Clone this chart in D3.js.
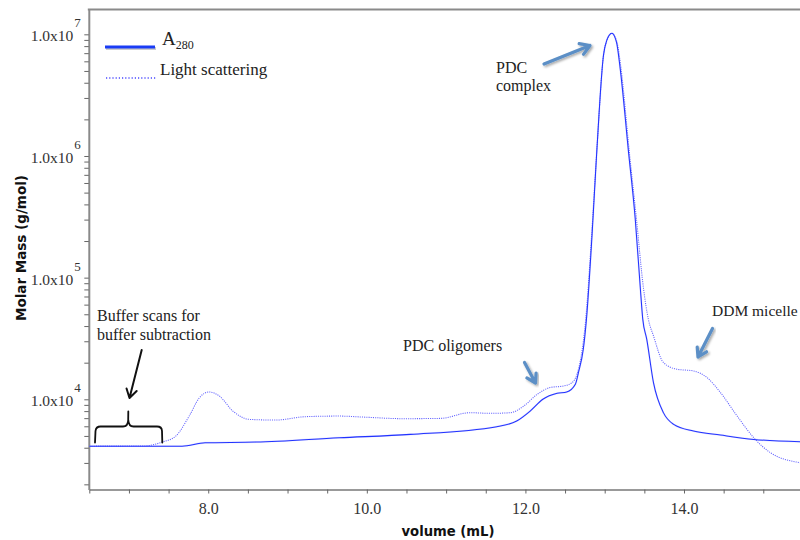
<!DOCTYPE html>
<html>
<head>
<meta charset="utf-8">
<script src="https://cdn.jsdelivr.net/npm/d3@7"></script>
<style>
  html, body { margin: 0; padding: 0; background: #fff; }
  svg { display: block; }
</style>
</head>
<body>
<svg id="chart" width="800" height="540"></svg>
<script>
// ---------- data ----------
const volumeA280 = [6.50, 7.67, 7.96, 8.60, 9.65, 10.55, 11.64, 11.89, 12.06, 12.22, 12.40, 12.52, 12.63, 12.67, 12.73, 12.77, 12.84, 12.90, 12.985, 13.025, 13.09, 13.15, 13.195, 13.30, 13.385, 13.45, 13.48, 13.53, 13.615, 13.74, 13.87, 14.12, 14.46, 14.88, 15.47];
const massA280   = [4120, 4120, 4395, 4450, 4830, 5150, 5960, 6630, 8010, 10000, 11200, 11480, 13300, 16700, 25800, 45600, 221800, 1087000, 6760000, 8870000, 10200000, 8530000, 5250000, 1087000, 304700, 80700, 45640, 31240, 13730, 7770, 6220, 5480, 5080, 4680, 4480];

const volumeLS = [6.50, 7.18, 7.42, 7.59, 7.76, 7.89, 8.01, 8.14, 8.31, 8.52, 8.85, 9.23, 9.65, 9.96, 10.46, 10.93, 11.30, 11.56, 11.81, 11.98, 12.15, 12.31, 12.48, 12.59, 12.65, 12.70, 12.76, 12.835, 12.90, 12.985, 13.025, 13.09, 13.155, 13.205, 13.31, 13.40, 13.49, 13.55, 13.615, 13.74, 13.91, 14.12, 14.29, 14.46, 14.67, 14.88, 15.09, 15.47];
const massLS   = [4120, 4130, 4450, 4980, 7290, 10330, 11480, 10640, 8010, 6840, 6750, 7200, 7280, 7140, 6930, 6970, 7760, 7670, 7760, 8810, 11000, 12490, 12870, 13740, 16070, 22000, 45000, 221800, 1087000, 6760000, 8870000, 10200000, 8600000, 5300000, 1087000, 304700, 80700, 45640, 33260, 20080, 17680, 17110, 15100, 11360, 7290, 4830, 3640, 3010];

const xTickValues = [6.5, 7, 7.5, 8, 8.5, 9, 9.5, 10, 10.5, 11, 11.5, 12, 12.5, 13, 13.5, 14, 14.5, 15];
const xTickLabels = [8, 10, 12, 14];
const yMajorExponents = [4, 5, 6, 7];
const yMinorMultipliers = [2, 3, 4, 5, 6, 7, 8, 9];
const yMinorExponents = [3, 4, 5, 6];

const legendLabels = ["A", "Light scattering"];
const annotations = [
  { lines: ["PDC", "complex"] },
  { lines: ["PDC oligomers"] },
  { lines: ["DDM micelle"] },
  { lines: ["Buffer scans for", "buffer subtraction"] }
];

// ---------- layout ----------
const W = 800, H = 540;
const plotLeft = 89.3, plotRight = 800, plotTop = 9, plotBottom = 489.5;

const svg = d3.select("#chart");

const x = d3.scaleLinear().domain([6.5, 15.463]).range([plotLeft, plotRight]);
const y = d3.scaleLog().domain([1814, 1.615e7]).range([plotBottom, plotTop]);

const serif = "'Liberation Serif', 'DejaVu Serif', serif";
const sans = "'DejaVu Sans', 'Liberation Sans', sans-serif";

// defs
const defs = svg.append("defs");
defs.append("clipPath").attr("id", "plotClip")
  .append("rect").attr("x", plotLeft).attr("y", plotTop)
  .attr("width", plotRight - plotLeft).attr("height", plotBottom - plotTop);
const shadow = defs.append("filter").attr("id", "shadow")
  .attr("x", "-20%").attr("y", "-20%").attr("width", "140%").attr("height", "140%");
shadow.append("feDropShadow").attr("dx", 1.5).attr("dy", 1.5)
  .attr("stdDeviation", 1.2).attr("flood-color", "#000").attr("flood-opacity", 0.35);

// ---------- axes ----------
const xAxis = d3.axisBottom(x)
  .tickValues(xTickValues)
  .tickSize(4)
  .tickSizeOuter(0)
  .tickFormat(d => xTickLabels.includes(d) ? d3.format(".1f")(d) : "");

const gx = svg.append("g")
  .attr("transform", `translate(0,${plotBottom})`)
  .call(xAxis);
gx.select(".domain").attr("stroke", "#777").attr("stroke-width", 1.6);
gx.selectAll(".tick line").attr("stroke", "#666").attr("stroke-width", 1);
gx.selectAll(".tick text")
  .attr("font-family", serif).attr("font-size", 16).attr("fill", "#333")
  .attr("dy", null).attr("y", 24);

const yTickValues = [];
yMinorExponents.forEach(k => yMinorMultipliers.forEach(m => yTickValues.push(m * Math.pow(10, k))));
yMajorExponents.forEach(k => yTickValues.push(Math.pow(10, k)));
const yTicksInDomain = yTickValues.filter(v => v >= y.domain()[0] && v <= y.domain()[1]).sort((a, b) => a - b);

const yAxis = d3.axisLeft(y)
  .tickValues(yTicksInDomain)
  .tickSize(4.5)
  .tickSizeOuter(0)
  .tickFormat(() => "");

const gy = svg.append("g")
  .attr("transform", `translate(${plotLeft - 0.5},0)`)
  .call(yAxis);
gy.select(".domain").attr("stroke", "#8a8a8a").attr("stroke-width", 2);
gy.selectAll(".tick line").attr("stroke", "#666").attr("stroke-width", 1);
gy.selectAll(".tick").each(function(d) {
  const e = Math.round(Math.log10(d));
  if (Math.abs(Math.log10(d) - e) < 1e-9 && yMajorExponents.includes(e)) {
    const t = d3.select(this).select("text")
      .attr("font-family", serif).attr("font-size", 15.5).attr("fill", "#333")
      .attr("x", -8).attr("dy", null).attr("y", 6.5)
      .attr("text-anchor", "end");
    t.text(null);
    t.append("tspan").text("1.0x10");
    t.append("tspan").attr("font-size", 13).attr("dx", 1).attr("dy", -14).text(e);
  }
});

// top frame line
svg.append("line")
  .attr("x1", plotLeft - 1.5).attr("x2", plotRight)
  .attr("y1", plotTop + 0.5).attr("y2", plotTop + 0.5)
  .attr("stroke", "#8a8a8a").attr("stroke-width", 2.2);

// axis titles
svg.append("text")
  .attr("transform", `translate(26,248) rotate(-90)`)
  .attr("text-anchor", "middle")
  .attr("font-family", sans).attr("font-weight", "bold")
  .attr("font-size", 13.5).attr("fill", "#111")
  .text("Molar Mass (g/mol)");

svg.append("text")
  .attr("x", 448).attr("y", 535.5)
  .attr("text-anchor", "middle")
  .attr("font-family", sans).attr("font-weight", "bold")
  .attr("font-size", 13.2).attr("fill", "#111")
  .text("volume (mL)");

// ---------- series ----------
const seriesA280 = volumeA280.map((v, i) => ({ v, m: massA280[i] }));
const seriesLS = volumeLS.map((v, i) => ({ v, m: massLS[i] }));

const line = d3.line()
  .x(d => x(d.v))
  .y(d => y(d.m))
  .curve(d3.curveMonotoneX);

const plot = svg.append("g").attr("clip-path", "url(#plotClip)");

plot.append("path")
  .datum(seriesLS)
  .attr("fill", "none")
  .attr("stroke", "#6464ff")
  .attr("stroke-width", 1.05)
  .attr("stroke-dasharray", "1.1,1.1")
  .attr("d", line);

plot.append("path")
  .datum(seriesA280)
  .attr("fill", "none")
  .attr("stroke", "#a0a0ff")
  .attr("stroke-width", 1.8)
  .attr("opacity", 0.3)
  .attr("d", line);

plot.append("path")
  .datum(seriesA280)
  .attr("fill", "none")
  .attr("stroke", "#2233ff")
  .attr("stroke-width", 1.05)
  .attr("d", line);

// ---------- legend ----------
const lg = svg.append("g");
lg.append("line").attr("x1", 106).attr("x2", 156).attr("y1", 48.5).attr("y2", 48.5)
  .attr("stroke", "#999").attr("stroke-width", 3).attr("opacity", 0.5);
lg.append("line").attr("x1", 105).attr("x2", 155).attr("y1", 47).attr("y2", 47)
  .attr("stroke", "#1a3cf5").attr("stroke-width", 3);
const aText = lg.append("text").attr("x", 162).attr("y", 45)
  .attr("font-family", serif).attr("font-size", 19).attr("fill", "#222");
aText.append("tspan").text(legendLabels[0]);
aText.append("tspan").attr("font-size", 12).attr("dy", 3.5).text("280");

lg.append("line").attr("x1", 106).attr("x2", 156).attr("y1", 78).attr("y2", 78)
  .attr("stroke", "#4a4aff").attr("stroke-width", 1.3).attr("stroke-dasharray", "1.2,2");
lg.append("text").attr("x", 160).attr("y", 75)
  .attr("font-family", serif).attr("font-size", 17).attr("fill", "#222")
  .text(legendLabels[1]);

// ---------- annotations ----------
function annText(a, x0, y0, lh, fs) {
  const t = svg.append("text").attr("font-family", serif).attr("font-size", fs || 16).attr("fill", "#222");
  a.lines.forEach((s, i) => t.append("tspan").attr("x", x0).attr("y", y0 + i * lh).text(s));
}
annText(annotations[0], 496, 72.5, 18.5);
annText(annotations[1], 403, 350.5, 0);
annText(annotations[2], 712, 316, 0, 15.5);
annText(annotations[3], 97, 320.5, 19.5);

function arrow(x1, y1, x2, y2, color, width, headLen, useShadow) {
  const ang = Math.atan2(y2 - y1, x2 - x1);
  const a1 = ang + Math.PI - 0.55, a2 = ang + Math.PI + 0.55;
  const p = d3.path();
  p.moveTo(x1, y1); p.lineTo(x2, y2);
  p.moveTo(x2 + headLen * Math.cos(a1), y2 + headLen * Math.sin(a1));
  p.lineTo(x2, y2);
  p.lineTo(x2 + headLen * Math.cos(a2), y2 + headLen * Math.sin(a2));
  const el = svg.append("path").attr("d", p.toString())
    .attr("fill", "none").attr("stroke", color).attr("stroke-width", width)
    .attr("stroke-linecap", "round").attr("stroke-linejoin", "round");
  if (useShadow) el.attr("filter", "url(#shadow)");
}
const steel = "#5b8fc6";
arrow(544, 64, 590, 45.5, steel, 3.2, 11, true);
arrow(524.5, 362.5, 535.5, 383, steel, 3.2, 10, true);
arrow(712.5, 328.5, 698, 357, steel, 3.2, 10, true);
arrow(141.7, 350, 129.5, 398, "#111", 2, 10, false);

// brace
const b = d3.path();
b.moveTo(95, 442.5);
b.lineTo(95.5, 431);
b.quadraticCurveTo(96, 426.5, 100.5, 426.5);
b.lineTo(123, 426.5);
b.quadraticCurveTo(128, 426.5, 128.2, 420);
b.lineTo(128.3, 411.5);
b.moveTo(128.3, 420);
b.quadraticCurveTo(128.6, 426.5, 133.5, 426.5);
b.lineTo(157, 426.5);
b.quadraticCurveTo(161.8, 426.5, 162, 431);
b.lineTo(162.3, 442.5);
svg.append("path").attr("d", b.toString())
  .attr("fill", "none").attr("stroke", "#111").attr("stroke-width", 1.8)
  .attr("stroke-linecap", "round");
</script>
</body>
</html>
